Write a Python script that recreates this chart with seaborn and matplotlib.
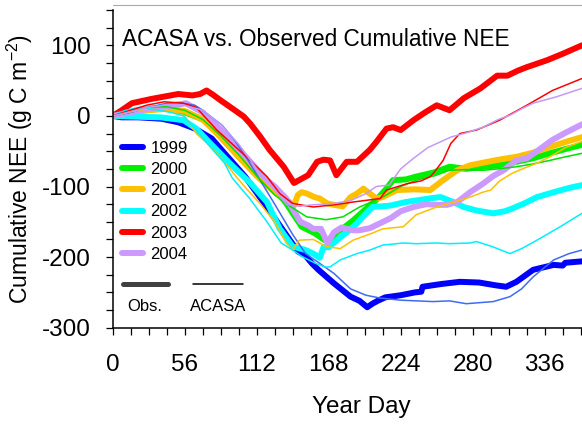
import matplotlib
matplotlib.use("Agg")
import matplotlib.pyplot as plt
from matplotlib.lines import Line2D
from matplotlib.ticker import MultipleLocator
import seaborn as sns
import pandas as pd

# ---------------- data ----------------
years = ["1999", "2000", "2001", "2002", "2003", "2004"]
obs_colors = ["#0000FF", "#00F000", "#FFC000", "#00FFFF", "#FF0000", "#CC99FF"]
sim_colors = ["#3F6BF5", "#00E000", "#FFC000", "#00F0FF", "#FF0000", "#C39BF5"]

obs_days_1999 = [0, 7, 20, 38, 51, 64, 77, 87, 103, 118, 134, 144, 150, 155, 160, 172, 185, 192, 198, 202, 206, 212, 224, 235, 240, 241, 256, 270, 285, 298, 306, 314, 327, 343, 350, 352, 365]
obs_vals_1999 = [0, -2, -2, -4, -9, -18, -32, -53, -86, -124, -166, -192, -198, -209, -218, -237, -256, -262, -271, -266, -262, -257, -254, -250, -249, -242, -238, -235, -236, -240, -242, -235, -218, -211, -212, -208, -206]
sim_days_1999 = [0, 14, 28, 42, 51, 64, 72, 85, 95, 105, 115, 126, 140, 150, 158, 165, 172, 185, 197, 208, 224, 249, 262, 275, 296, 309, 318, 327, 343, 355, 365]
sim_vals_1999 = [0, 5, 12, 18, 19, 15, 5, -13, -35, -62, -92, -125, -168, -195, -205, -214, -223, -245, -254, -258, -261, -263, -262, -266, -263, -256, -245, -228, -204, -195, -190]

obs_days_2000 = [0, 14, 28, 42, 55, 62, 70, 77, 84, 101, 117, 127, 135, 147, 157, 165, 170, 174, 180, 187, 195, 205, 212, 218, 228, 236, 250, 262, 275, 288, 300, 314, 327, 340, 352, 365]
obs_vals_2000 = [0, 5, 10, 10, 6, 1, -5, -13, -30, -63, -91, -105, -124, -157, -166, -176, -180, -165, -158, -148, -135, -119, -105, -91, -90, -86, -80, -72, -75, -72, -70, -65, -60, -53, -47, -41]
sim_days_2000 = [0, 14, 28, 42, 56, 70, 84, 98, 112, 126, 138, 151, 166, 179, 192, 208, 224, 236, 250, 262, 275, 288, 300, 314, 327, 340, 352, 365]
sim_vals_2000 = [0, 6, 12, 13, 8, -5, -28, -55, -85, -112, -128, -143, -147, -143, -129, -117, -100, -91, -85, -77, -76, -77, -75, -72, -68, -63, -58, -53]

obs_days_2001 = [0, 14, 28, 42, 56, 70, 84, 98, 112, 126, 136, 141, 144, 147, 151, 157, 161, 167, 172, 179, 185, 190, 195, 200, 205, 210, 221, 235, 247, 257, 268, 278, 286, 300, 314, 327, 340, 352, 365]
obs_vals_2001 = [0, 5, 8, 10, 7, -5, -30, -58, -85, -108, -120, -127, -112, -108, -110, -115, -117, -124, -126, -128, -115, -110, -103, -110, -117, -115, -105, -104, -105, -91, -77, -70, -67, -62, -58, -52, -44, -37, -30]
sim_days_2001 = [0, 14, 28, 42, 56, 65, 73, 81, 90, 96, 104, 115, 126, 135, 140, 145, 156, 166, 177, 187, 202, 210, 226, 236, 252, 262, 278, 288, 294, 301, 311, 320, 330, 340, 352, 365]
sim_vals_2001 = [0, 6, 10, 8, 0, -25, -38, -53, -72, -86, -103, -125, -150, -180, -190, -176, -175, -185, -188, -176, -166, -160, -157, -140, -129, -124, -115, -108, -105, -92, -81, -74, -67, -58, -45, -36]

obs_days_2002 = [0, 15, 37, 55, 65, 76, 91, 107, 120, 130, 140, 150, 156, 161, 164, 168, 177, 184, 190, 196, 202, 210, 216, 228, 239, 250, 255, 265, 273, 283, 296, 305, 311, 320, 330, 345, 355, 365]
obs_vals_2002 = [0, -1, -2, -6, -18, -39, -67, -95, -122, -160, -185, -190, -195, -201, -186, -186, -172, -162, -152, -140, -129, -128, -127, -122, -119, -116, -115, -122, -129, -134, -138, -135, -131, -124, -115, -107, -102, -98]
sim_days_2002 = [0, 10, 20, 30, 45, 55, 63, 76, 87, 93, 107, 113, 120, 131, 140, 147, 158, 165, 169, 177, 190, 200, 210, 226, 236, 252, 262, 278, 283, 295, 309, 318, 330, 348, 365]
sim_vals_2002 = [0, 8, 12, 10, 5, 0, -16, -44, -67, -88, -118, -133, -150, -180, -190, -199, -209, -214, -214, -204, -195, -190, -183, -180, -181, -180, -181, -180, -178, -185, -195, -188, -176, -157, -138]

obs_days_2003 = [0, 7, 15, 30, 42, 51, 62, 68, 73, 78, 84, 95, 102, 107, 115, 122, 133, 141, 148, 152, 159, 164, 169, 174, 182, 190, 200, 205, 213, 218, 224, 234, 243, 252, 262, 273, 286, 299, 307, 315, 322, 330, 338, 350, 365]
obs_vals_2003 = [0, 8, 18, 24, 28, 31, 29, 31, 36, 30, 22, 8, -1, -11, -30, -48, -72, -95, -88, -84, -65, -62, -63, -84, -65, -65, -48, -37, -18, -16, -20, -6, 5, 15, 8, 25, 39, 57, 57, 64, 69, 74, 79, 88, 100]
sim_days_2003 = [0, 14, 26, 40, 55, 65, 81, 101, 120, 130, 140, 156, 172, 187, 208, 213, 229, 240, 247, 250, 257, 263, 270, 283, 301, 322, 342, 365]
sim_vals_2003 = [0, 8, 15, 20, 18, 12, -20, -53, -86, -110, -124, -129, -126, -122, -117, -105, -96, -92, -86, -80, -63, -39, -25, -20, -6, 15, 36, 53]

obs_days_2004 = [0, 14, 28, 42, 57, 70, 84, 101, 112, 120, 126, 135, 146, 152, 156, 162, 167, 172, 178, 182, 187, 192, 200, 208, 216, 224, 234, 244, 252, 260, 268, 278, 288, 296, 304, 314, 322, 330, 342, 352, 365]
obs_vals_2004 = [0, 5, 10, 13, 18, 5, -20, -53, -75, -91, -100, -117, -150, -155, -160, -160, -180, -165, -158, -160, -162, -162, -159, -152, -145, -135, -129, -125, -126, -126, -122, -108, -96, -85, -77, -63, -60, -50, -34, -24, -12]
sim_days_2004 = [0, 14, 28, 42, 56, 70, 84, 98, 112, 126, 135, 145, 155, 172, 185, 197, 205, 215, 224, 234, 245, 263, 275, 288, 300, 309, 318, 327, 345, 355, 365]
sim_vals_2004 = [0, 6, 12, 16, 15, 8, -12, -40, -75, -105, -125, -128, -126, -124, -120, -110, -100, -98, -75, -60, -45, -30, -24, -16, -5, 1, 10, 18, 27, 33, 39]

obs_days = [obs_days_1999, obs_days_2000, obs_days_2001, obs_days_2002, obs_days_2003, obs_days_2004]
obs_vals = [obs_vals_1999, obs_vals_2000, obs_vals_2001, obs_vals_2002, obs_vals_2003, obs_vals_2004]
sim_days = [sim_days_1999, sim_days_2000, sim_days_2001, sim_days_2002, sim_days_2003, sim_days_2004]
sim_vals = [sim_vals_1999, sim_vals_2000, sim_vals_2001, sim_vals_2002, sim_vals_2003, sim_vals_2004]

x_ticks = [0, 56, 112, 168, 224, 280, 336]
y_ticks = [-300, -200, -100, 0, 100]
title_text = "ACASA vs. Observed Cumulative NEE"

# ---------------- style ----------------
sns.set_theme(style="ticks")
plt.rcParams["font.family"] = ["Liberation Sans", "DejaVu Sans"]
plt.rcParams["mathtext.fontset"] = "custom"
plt.rcParams["mathtext.rm"] = "Liberation Sans"
plt.rcParams["mathtext.it"] = "Liberation Sans:italic"
plt.rcParams["mathtext.default"] = "regular"
plt.rcParams["axes.unicode_minus"] = False
for k in ["text.color", "axes.labelcolor", "xtick.color", "ytick.color", "axes.edgecolor"]:
    plt.rcParams[k] = "black"

fig = plt.figure(figsize=(5.82, 4.24), dpi=100)
ax = fig.add_axes([0.1936, 0.2271, 1.0 - 0.1936, 0.9764 - 0.2271])

for i in range(len(years)):
    df = pd.DataFrame({"day": obs_days[i], "nee": obs_vals[i]})
    sns.lineplot(data=df, x="day", y="nee", ax=ax, color=obs_colors[i], lw=4.3,
                 estimator=None, sort=False, solid_joinstyle="round", solid_capstyle="round")
for i in range(len(years)):
    df = pd.DataFrame({"day": sim_days[i], "nee": sim_vals[i]})
    sns.lineplot(data=df, x="day", y="nee", ax=ax, color=sim_colors[i], lw=1.1,
                 estimator=None, sort=False)

ax.set_xlim(0, 365)
ax.set_ylim(-300, 150)
ax.set_xticks(x_ticks)
ax.set_yticks(y_ticks)
ax.xaxis.set_minor_locator(MultipleLocator(14))
ax.yaxis.set_minor_locator(MultipleLocator(25))
ax.tick_params(axis="both", which="both", direction="out", length=5, width=0.9,
               color="black", labelcolor="black")
ax.tick_params(axis="x", which="major", labelsize=17.5, pad=14)
ax.tick_params(axis="y", which="major", labelsize=17.5, pad=11)
for s in ["top", "right"]:
    ax.spines[s].set_visible(False)
for s in ["left", "bottom"]:
    ax.spines[s].set_color("black")
    ax.spines[s].set_linewidth(1.1)

ax.set_xlabel("Year Day", fontsize=17.5, color="black")
ax.set_ylabel("Cumulative NEE (g C m$^{-2}$)", fontsize=16.5, color="black")
ax.xaxis.set_label_coords(0.529, -0.215)
ax.yaxis.set_label_coords(-0.165, 0.5)

ax.text(0.02, 0.887, title_text, transform=ax.transAxes, fontsize=16.3,
        ha="left", va="baseline", color="black")

handles = [Line2D([0], [0], color=c, lw=4.3, solid_capstyle="round") for c in obs_colors]
leg = ax.legend(handles, years, loc="upper left", bbox_to_anchor=(0.02, 0.588),
                frameon=False, fontsize=12, handlelength=1.25, handletextpad=0.45,
                labelspacing=0.37, borderpad=0, borderaxespad=0)
for t in leg.get_texts():
    t.set_color("black")

# Obs. / ACASA key
ax.plot([0.021, 0.118], [0.138, 0.138], transform=ax.transAxes, color="#404040",
        lw=3.6, solid_capstyle="round", clip_on=False)
ax.plot([0.171, 0.278], [0.138, 0.138], transform=ax.transAxes, color="black",
        lw=1.1, clip_on=False)
ax.text(0.069, 0.068, "Obs.", transform=ax.transAxes, fontsize=12, ha="center", va="center")
ax.text(0.224, 0.068, "ACASA", transform=ax.transAxes, fontsize=12, ha="center", va="center")

# thin grey frame line at the very top of the reference
fig.add_artist(Line2D([0.1936, 1.0], [1 - 5 / 424, 1 - 5 / 424], transform=fig.transFigure,
                      color="#a8a8a8", lw=0.8))

fig.savefig("out.png", dpi=100)
